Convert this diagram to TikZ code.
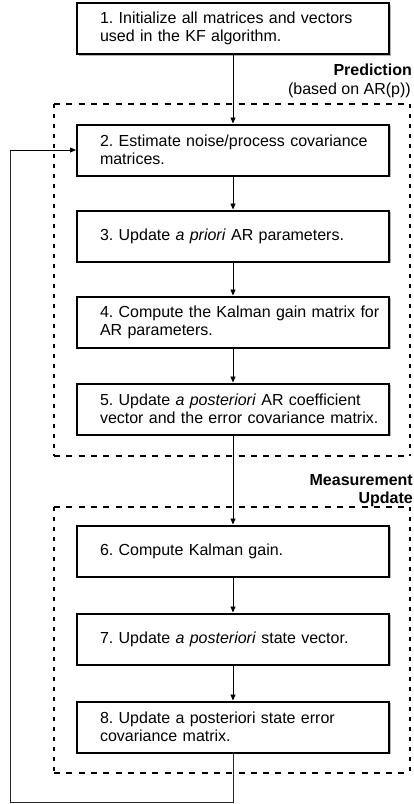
\documentclass[tikz,border=0pt]{standalone}
\usepackage{fontspec}
\setmainfont{Liberation Sans}
\usetikzlibrary{arrows.meta,shadows}
% text setting inside the step boxes
\newcommand\stepfont{\fontsize{16}{18}\selectfont\frenchspacing\hyphenpenalty=10000\relax}
\newcommand\stepindent{\leftskip=17pt\relax}
\begin{document}
\begin{tikzpicture}[x=1pt,y=-1pt,
  stepbox/.style={draw=black, line width=2pt, fill=white,
    minimum width=312pt, minimum height=51pt, text width=300pt,
    inner xsep=6pt, inner ysep=0pt, align=left,
    font=\stepfont, execute at begin node=\stepindent,
    drop shadow={shadow xshift=1.5pt, shadow yshift=-1.5pt, opacity=0.3, fill=black}},
  flow/.style={draw=black, line width=0.8pt, -{Triangle[length=6pt,width=5pt]}},
  loopline/.style={draw=black!85, line width=0.8pt},
  frameh/.style={line width=2.5pt, dash pattern=on 6pt off 6.3pt},
  framev/.style={line width=2.5pt, dash pattern=on 4pt off 6pt},
  tag/.style={anchor=east, inner sep=0pt, font=\fontsize{16}{18}\selectfont}
]
\useasboundingbox (0,0) rectangle (414,804);

% prediction stage frame
\draw[frameh] (54,104) -- (410,104);
\draw[frameh] (54,456) -- (410,456);
\draw[framev] (54,104) -- (54,456);
\draw[framev] (410,104) -- (410,456);
% measurement update stage frame
\draw[frameh] (54,507) -- (410,507);
\draw[frameh] (54,773) -- (410,773);
\draw[framev] (54,507) -- (54,773);
\draw[framev] (410,507) -- (410,773);

% stage titles
\node[tag, font=\fontsize{16}{18}\selectfont\bfseries] (tpred) at (412,70) {Prediction};
\node[tag] (tpred2) at (411,90) {(based on AR(p))};
\node[tag, font=\fontsize{16}{18}\selectfont\bfseries] (tmeas) at (413,480) {Measurement};
\node[tag, font=\fontsize{16}{18}\selectfont\bfseries] (tmeas2) at (413,499) {Update};

% algorithm steps
\node[stepbox] (s1) at (233,28.5) {1. Initialize all matrices and vectors\\used in the KF algorithm.};
\node[stepbox] (s2) at (233,150) {2. Estimate noise/process covariance\\matrices.};
\node[stepbox] (s3) at (233,236) {3. Update \textit{a priori} AR parameters.};
\node[stepbox] (s4) at (233,322) {4. Compute the Kalman gain matrix for\\AR parameters.};
\node[stepbox] (s5) at (233,409) {5. Update \textit{a posteriori} AR coefficient\\vector and the error covariance matrix.};
\node[stepbox] (s6) at (233,551) {6. Compute Kalman gain.};
\node[stepbox] (s7) at (233,639) {7. Update \textit{a posteriori} state vector.};
\node[stepbox] (s8) at (233,727) {8. Update a posteriori state error\\covariance matrix.};

% forward flow
\draw[flow] (s1) -- (s2);
\draw[flow] (s2) -- (s3);
\draw[flow] (s3) -- (s4);
\draw[flow] (s4) -- (s5);
\draw[flow] (s5) -- (s6);
\draw[flow] (s6) -- (s7);
\draw[flow] (s7) -- (s8);

% feedback loop back to step 2
\coordinate (lb) at (233,802);
\coordinate (ll) at (10,802);
\coordinate (lt) at (10,150);
\draw[loopline] (s8.south) -- (lb) -- (ll) -- (lt);
\draw[flow] (lt) -- (s2.west);
\end{tikzpicture}
\end{document}
